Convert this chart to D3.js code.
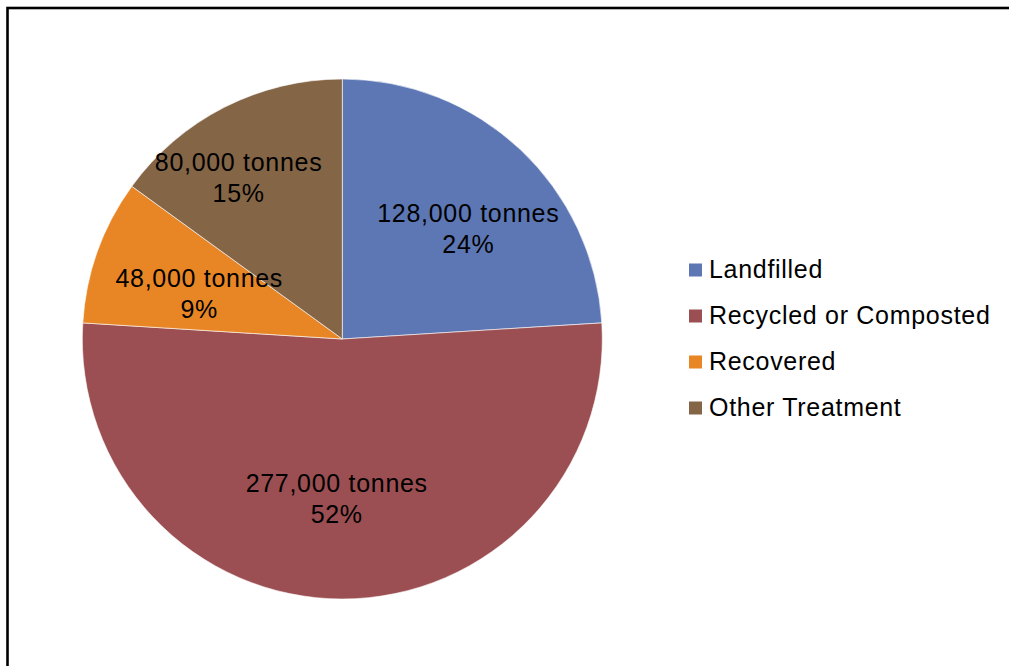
<!DOCTYPE html>
<html>
<head>
<meta charset="utf-8">
<script src="https://cdn.jsdelivr.net/npm/d3@7"></script>
<style>
  html, body { margin: 0; padding: 0; background: #fff; }
  svg { display: block; }
  text { font-family: "Liberation Sans", Arial, sans-serif; fill: #000; }
</style>
</head>
<body>
<svg id="chart" width="1009" height="666"></svg>
<script>
// ---- data ----
const categories = ["Landfilled", "Recycled or Composted", "Recovered", "Other Treatment"];
const tonnes = [128000, 277000, 48000, 80000];
const percentLabels = ["24%", "52%", "9%", "15%"];
const colors = ["#5D77B5", "#9B4F52", "#E88625", "#846546"];

// ---- layout (label placement tweaks, Excel "best fit") ----
const labelRadiusFrac = [0.645, 0.614, 0.577, 0.738];
const labelAngleShiftDeg = [5.5, 2, -2.2, -5.7];

const W = 1009, H = 666;
const cx = 342.3, cy = 339, R = 260;
const svg = d3.select("#chart");

// border (cropped on right and bottom)
svg.append("rect")
  .attr("x", 7.5).attr("y", 8).attr("width", W + 20).attr("height", H + 20)
  .attr("fill", "none").attr("stroke", "#000").attr("stroke-width", 2.6);

const pie = d3.pie().sort(null).value(d => d);
const arcs = pie(tonnes);
const arc = d3.arc().innerRadius(0).outerRadius(R);

const g = svg.append("g").attr("transform", `translate(${cx},${cy})`);
g.selectAll("path.slice").data(arcs).enter().append("path")
  .attr("class", "slice")
  .attr("d", arc)
  .attr("fill", (d, i) => colors[i])
  .attr("stroke", "#fff").attr("stroke-width", 1).attr("stroke-opacity", 0.6);

const fmt = d3.format(",");
const labels = g.selectAll("g.lbl").data(arcs).enter().append("g")
  .attr("class", "lbl")
  .attr("transform", (d, i) => {
    const a = (d.startAngle + d.endAngle) / 2 + labelAngleShiftDeg[i] * Math.PI / 180;
    const r = R * labelRadiusFrac[i];
    return `translate(${r * Math.sin(a)},${-r * Math.cos(a)})`;
  });
labels.append("text")
  .attr("text-anchor", "middle").attr("y", -6.5)
  .style("font-size", "25px").style("letter-spacing", "0.7px")
  .text((d, i) => fmt(tonnes[i]) + " tonnes");
labels.append("text")
  .attr("text-anchor", "middle").attr("y", 24.5)
  .style("font-size", "25px").style("letter-spacing", "0.7px")
  .text((d, i) => percentLabels[i]);

// legend
const legend = svg.append("g").attr("transform", "translate(689,0)");
const rowY = d3.scalePoint().domain(categories).range([277.5, 415.5]);
const items = legend.selectAll("g.item").data(categories).enter().append("g")
  .attr("class", "item")
  .attr("transform", d => `translate(0,${rowY(d)})`);
items.append("rect")
  .attr("x", 0).attr("y", -14).attr("width", 13).attr("height", 13)
  .attr("fill", (d, i) => colors[i]);
items.append("text")
  .attr("x", 20).attr("y", 0)
  .style("font-size", "25px").style("letter-spacing", "0.7px")
  .text(d => d);
</script>
</body>
</html>
